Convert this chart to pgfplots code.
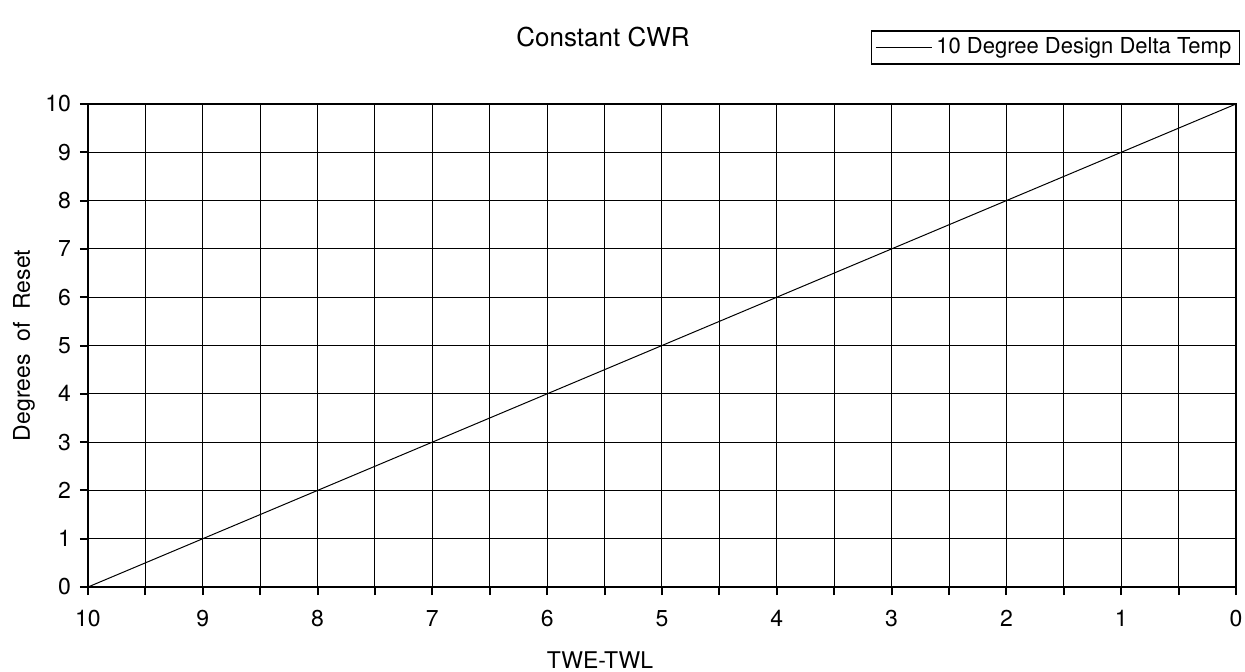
\documentclass[border=0pt]{standalone}
\usepackage{fontspec}
\setmainfont{TeX Gyre Heros}
\usepackage{pgfplots}
\pgfplotsset{compat=1.18}
\begin{document}
\begin{tikzpicture}
\begin{axis}[
  at={(0,0)}, anchor=south west,
  scale only axis,
  width=574pt, height=241.5pt,
  x dir=reverse,
  xmin=0, xmax=10, ymin=0, ymax=10,
  xtick={0,1,...,10},
  minor xtick={0.5,1.5,...,9.5},
  ytick={0,1,...,10},
  xtick pos=bottom, ytick pos=left,
  tick align=outside,
  major tick length=4pt, minor tick length=4pt,
  grid=both,
  major grid style={black, line width=0.5pt},
  minor grid style={black, line width=0.5pt},
  every tick/.style={black, line width=1pt},
  minor tick style={black, line width=1pt},
  axis line style={black, line width=1pt},
  /pgf/number format/assume math mode=true,
  tick label style={font=\fontsize{11.5}{13}\selectfont},
  xticklabel style={yshift=-4pt},
  yticklabel style={xshift=-1pt},
  clip=false,
  legend style={at={(axis description cs:1.0035,1.153)}, anchor=north east, draw=black, line width=0.7pt,
    font=\fontsize{11}{13}\selectfont, inner xsep=2pt, inner ysep=1.5pt},
  legend image code/.code={\draw[black, line width=0.5pt] (0pt,0pt) -- (28pt,0pt);},
]
\addplot[black, line width=0.5pt] coordinates {(10,0) (0,10)};
\addlegendentry{10 Degree Design Delta Temp}
\end{axis}
\node[font=\fontsize{13}{15}\selectfont] at (257.5pt,275pt) {Constant CWR};
\node[font=\fontsize{11.5}{13}\selectfont] at (256pt,-36.5pt) {TWE-TWL};
\node[font=\fontsize{11.5}{13}\selectfont, rotate=90] at (-32pt,120.75pt) {Degrees\ \ of\ \ Reset};
\pgfresetboundingbox
\path (-44pt,-42pt) rectangle (578.5pt,293.5pt);
\end{tikzpicture}
\end{document}
